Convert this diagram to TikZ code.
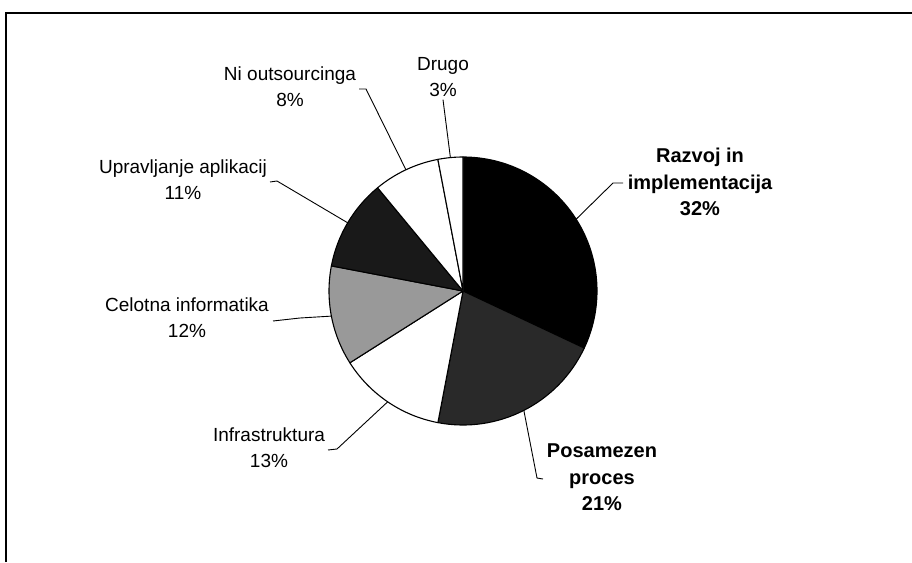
\documentclass[tikz,border=0pt]{standalone}
\usepackage{fontspec}
\setmainfont{Liberation Sans}
\usetikzlibrary{calc}
\begin{document}
\begin{tikzpicture}[x=1pt,y=1pt,
  slice/.style={draw=black,line width=1.1pt,line join=round},
  leader/.style={draw=black,line width=0.9pt},
  lbl/.style={anchor=north,inner sep=0pt,align=center,font=\fontsize{19}{26}\selectfont},
  blbl/.style={lbl,font=\fontsize{20}{26.5}\selectfont\bfseries}]
  % page and frame
  \useasboundingbox (0,0) rectangle (912,-562);
  \fill[white] (0,0) rectangle (912,-562);
  \draw[line width=1.4pt] (6,-562) -- (6,-13) -- (912,-13);

  \coordinate (c) at (463,-291);
  \def\R{134}
  % slices, clockwise from the top
  \filldraw[slice,fill=black]   (c) -- ++(90:\R)     arc[start angle=90,     end angle=-25.2,  radius=\R] -- cycle;
  \filldraw[slice,fill=black!84](c) -- ++(-25.2:\R)  arc[start angle=-25.2,  end angle=-100.8, radius=\R] -- cycle;
  \filldraw[slice,fill=white]   (c) -- ++(-100.8:\R) arc[start angle=-100.8, end angle=-147.6, radius=\R] -- cycle;
  \filldraw[slice,fill=black!40](c) -- ++(-147.6:\R) arc[start angle=-147.6, end angle=-190.8, radius=\R] -- cycle;
  \filldraw[slice,fill=black!90](c) -- ++(-190.8:\R) arc[start angle=-190.8, end angle=-230.4, radius=\R] -- cycle;
  \filldraw[slice,fill=white]   (c) -- ++(-230.4:\R) arc[start angle=-230.4, end angle=-259.2, radius=\R] -- cycle;
  \filldraw[slice,fill=white]   (c) -- ++(-259.2:\R) arc[start angle=-259.2, end angle=-270,   radius=\R] -- cycle;

  % slice mid points on the rim
  \coordinate (mRaz) at ($(c)+(32.4:\R)$);
  \coordinate (mPos) at ($(c)+(-63:\R)$);
  \coordinate (mInf) at ($(c)+(-124.2:\R)$);
  \coordinate (mCel) at ($(c)+(-169.2:\R)$);
  \coordinate (mUpr) at ($(c)+(149.4:\R)$);
  \coordinate (mNi)  at ($(c)+(115.2:\R)$);
  \coordinate (mDru) at ($(c)+(95.4:\R)$);

  % labels
  \node[lbl]  (lDru) at (443,-57)  {Drugo\\3\%};
  \node[lbl]  (lNi)  at (290,-67)  {Ni outsourcinga\\8\%};
  \node[lbl]  (lUpr) at (183,-160) {Upravljanje aplikacij\\11\%};
  \node[lbl]  (lCel) at (187,-298) {Celotna informatika\\12\%};
  \node[lbl]  (lInf) at (269,-428) {Infrastruktura\\13\%};
  \node[blbl] (lPos) at (602,-444) {Posamezen\\proces\\21\%};
  \node[blbl] (lRaz) at (700,-148) {Razvoj in\\implementacija\\32\%};

  % leader lines
  \draw[leader] (lDru.south) ++(0,-3) coordinate (kDru) -- (mDru);
  \draw[leader] (359,-89) coordinate (kNi0) -- (366,-89) coordinate (kNi1) -- (mNi);
  \draw[leader] (270,-182) coordinate (kUp0) -- (277,-181) coordinate (kUp1) -- (mUpr);
  \draw[leader] (273,-321) coordinate (kCe0) -- (300,-318) coordinate (kCe1) -- (mCel);
  \draw[leader] (328,-450) coordinate (kIn0) -- (337,-449) coordinate (kIn1) -- (mInf);
  \draw[leader] (543,-479) coordinate (kPo0) -- (537,-478) coordinate (kPo1) -- (mPos);
  \draw[leader] (623,-183) coordinate (kRa0) -- (613,-183) coordinate (kRa1) -- (mRaz);
\end{tikzpicture}
\end{document}
